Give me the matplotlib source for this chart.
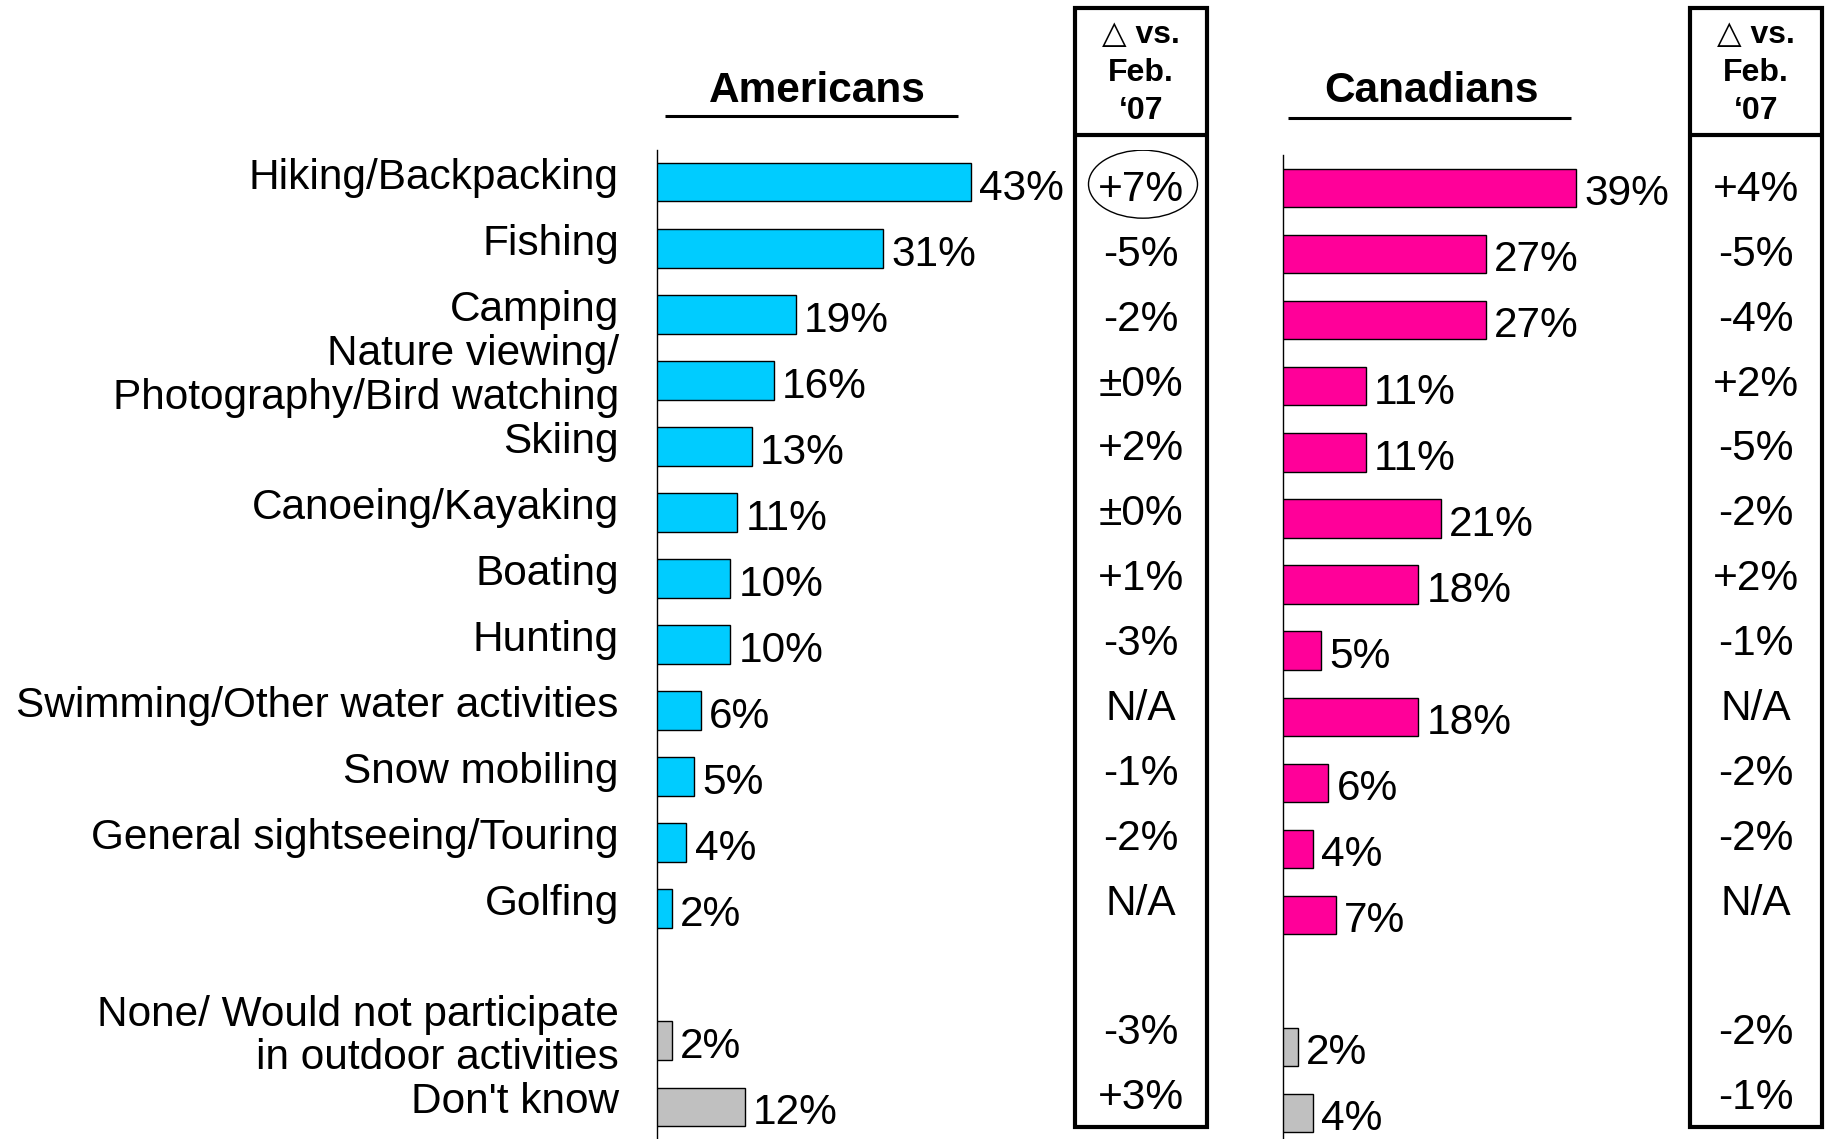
import matplotlib
matplotlib.use("Agg")
import matplotlib.pyplot as plt
from matplotlib.patches import Ellipse, Rectangle

# ---------------- data ----------------
categories = [
    "Hiking/Backpacking",
    "Fishing",
    "Camping",
    "Nature viewing/\nPhotography/Bird watching",
    "Skiing",
    "Canoeing/Kayaking",
    "Boating",
    "Hunting",
    "Swimming/Other water activities",
    "Snow mobiling",
    "General sightseeing/Touring",
    "Golfing",
    "None/ Would not participate\nin outdoor activities",
    "Don't know",
]
americans = [43, 31, 19, 16, 13, 11, 10, 10, 6, 5, 4, 2, 2, 12]
canadians = [39, 27, 27, 11, 11, 21, 18, 5, 18, 6, 4, 7, 2, 4]
delta_us = ["+7%", "-5%", "-2%", "±0%", "+2%", "±0%", "+1%", "-3%", "N/A",
            "-1%", "-2%", "N/A", "-3%", "+3%"]
delta_ca = ["+4%", "-5%", "-4%", "+2%", "-5%", "-2%", "+2%", "-1%", "N/A",
            "-2%", "-2%", "N/A", "-2%", "-1%"]
n_activities = 12          # first 12 rows are activities, rest are "other"
highlight_us = 0           # row of the circled delta
header_us = "Americans"
header_ca = "Canadians"
delta_header = "\u25b3 vs.\nFeb.\n\u201807"

# ---------------- style ----------------
FONT = ["Liberation Sans", "DejaVu Sans"]
plt.rcParams["font.family"] = FONT
C_US = "#00CCFF"
C_CA = "#FF0099"
C_OTHER = "#C0C0C0"
FS = 30.5

W, H = 1832, 1139
fig = plt.figure(figsize=(W / 100, H / 100), dpi=100)
fig.patch.set_facecolor("white")


def px_axes(l, t, r, b):
    return fig.add_axes([l / W, 1 - b / H, (r - l) / W, (b - t) / H])


# row positions (gap before the "other" rows)
ypos = [i if i < n_activities else i + 1 for i in range(len(categories))]


def bar_panel(ax, values, color, ylim):
    colors = [color if i < n_activities else C_OTHER for i in range(len(values))]
    ax.barh(ypos, values, height=0.58, color=colors, edgecolor="black",
            linewidth=1.0, zorder=3)
    for v, y in zip(values, ypos):
        ax.annotate(f"{v}%", xy=(v, y), xytext=(6, -4.5),
                    textcoords="offset points", ha="left", va="center",
                    fontsize=FS)
    ax.set_xlim(0, 50)
    ax.set_ylim(*ylim)
    for s in ["top", "right", "bottom"]:
        ax.spines[s].set_visible(False)
    ax.spines["left"].set_linewidth(1.0)
    ax.set_xticks([])
    ax.set_yticks([])
    ax.patch.set_visible(False)


# Americans panel
ax_us = px_axes(657, 150, 657 + 50 * 7.30, H)
bar_panel(ax_us, americans, C_US, (14.49, -0.49))
for lab, y in zip(categories, ypos):
    ax_us.annotate(lab, xy=(0, y), xycoords=("axes fraction", "data"),
                   xytext=(-27.5, 3.2), textcoords="offset points",
                   ha="right", va="center", fontsize=FS, linespacing=1.1,
                   multialignment="right")

# Canadians panel
ax_ca = px_axes(1283, 155, 1283 + 50 * 7.52, H)
bar_panel(ax_ca, canadians, C_CA, (14.39, -0.5))

# delta columns
def delta_panel(l, r, values):
    ax = px_axes(l, 150, r, H)
    ax.set_xlim(0, 1)
    ax.set_ylim(14.63, -0.617)
    ax.axis("off")
    for v, y in zip(values, ypos):
        ax.text(0.5, y, v, ha="center", va="center", fontsize=FS)
    return ax


ax_dus = delta_panel(1075, 1207, delta_us)
ax_dca = delta_panel(1689, 1823, delta_ca)

# circle around highlighted delta
ax_dus.add_patch(Ellipse((0.5 + 2 / 132, ypos[highlight_us] - 0.09),
                         width=109 / 132, height=68 / 64.85,
                         fill=False, edgecolor="black", linewidth=1.0))

# overlay for headers and boxes (pixel coordinates)
ov = fig.add_axes([0, 0, 1, 1])
ov.set_xlim(0, W)
ov.set_ylim(H, 0)
ov.axis("off")

ov.text(817, 102, header_us, ha="center", va="baseline", fontsize=30.5,
        fontweight="bold")
ov.plot([665, 958], [116, 116], color="black", linewidth=2.2,
        solid_capstyle="butt")
ov.text(1431, 102, header_ca, ha="center", va="baseline", fontsize=30.5,
        fontweight="bold")
ov.plot([1288, 1571], [118, 118], color="black", linewidth=2.2,
        solid_capstyle="butt")

for (l, r) in [(1075, 1207), (1690, 1822)]:
    ov.add_patch(Rectangle((l, 8), r - l, 1127 - 8, fill=False,
                           edgecolor="black", linewidth=3))
    ov.plot([l, r], [135, 135], color="black", linewidth=3,
            solid_capstyle="butt")
    ov.text((l + r) / 2, 73, delta_header, ha="center", va="center",
            fontsize=23, fontweight="bold", linespacing=1.35,
            multialignment="center")

fig.savefig("out.png", dpi=100, facecolor="white")
